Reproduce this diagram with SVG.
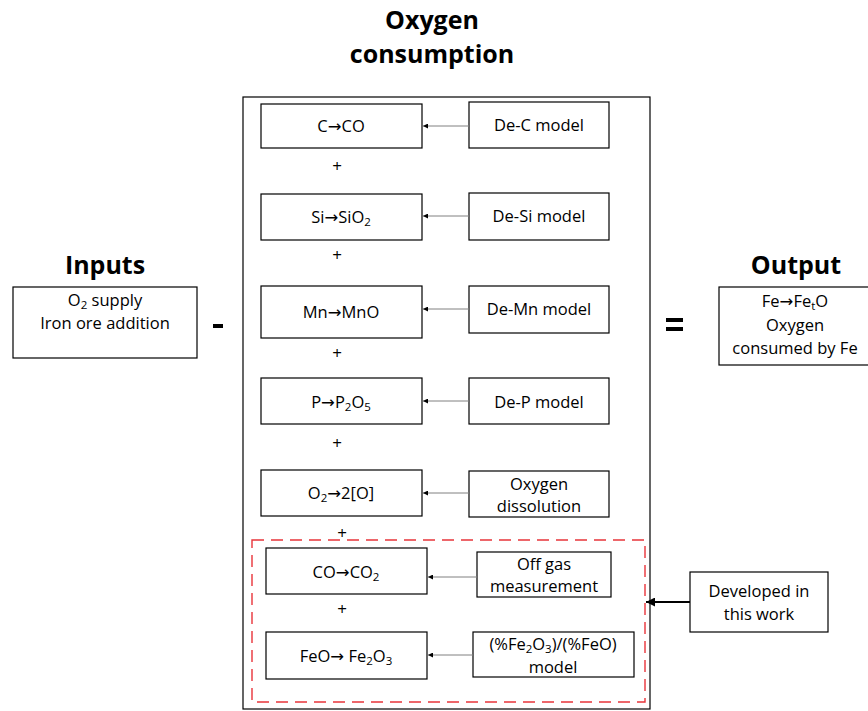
<svg xmlns="http://www.w3.org/2000/svg" width="868" height="711" viewBox="0 0 868 711">
<style>
text{font-family:"Open Sans","Liberation Sans",sans-serif;fill:#000;text-anchor:middle}
.t{font-size:16.5px}
.h{font-size:25px;font-weight:bold}
.b{fill:#fff;stroke:#000;stroke-width:1.2}
.c{stroke:#808080;stroke-width:1;fill:none}
.p{font-size:17px}
.r{font-family:"DejaVu Sans",sans-serif}
.s{font-size:11.5px}
</style>
<defs>
<marker id="a" viewBox="0 0 6 6" refX="6" refY="3" markerWidth="5" markerHeight="5" orient="auto" markerUnits="userSpaceOnUse"><path d="M0,0 L6,3 L0,6 Z" fill="#000"/></marker>
<marker id="a2" viewBox="0 0 6 6" refX="6" refY="3" markerWidth="9" markerHeight="9" orient="auto" markerUnits="userSpaceOnUse"><path d="M0,0 L6,3 L0,6 Z" fill="#000"/></marker>
</defs>
<rect width="868" height="711" fill="#fff"/>
<g id="title"><text class="h" x="432" y="29">Oxygen</text><text class="h" x="432" y="63">consumption</text></g>
<g id="main"><rect class="b" x="243" y="97" width="407" height="612"/></g>
<g id="dashed"><rect x="252" y="540" width="393" height="162" fill="none" stroke="#e8343a" stroke-width="1.4" stroke-dasharray="12,7"/></g>
<g id="inputs"><text class="h" x="105" y="274">Inputs</text><rect class="b" x="13" y="287" width="184" height="71"/><text class="t" x="105" y="306">O<tspan class="s" dy="3">2</tspan><tspan dy="-3"> supply</tspan></text><text class="t" x="105" y="329">Iron ore addition</text></g>
<g id="minus"><rect x="213" y="324" width="10" height="4" fill="#000"/></g>
<g id="equals"><rect x="666" y="318" width="17" height="4" fill="#000"/><rect x="666" y="327" width="17" height="4" fill="#000"/></g>
<g id="output"><text class="h" x="796" y="274">Output</text><rect class="b" x="719" y="287" width="150" height="78"/><text class="t" x="795" y="307">Fe<tspan class="r">→</tspan>Fe<tspan class="s" dy="3">t</tspan><tspan dy="-3">O</tspan></text><text class="t" x="795" y="331">Oxygen</text><text class="t" x="795" y="354">consumed by Fe</text></g>
<g id="n1"><rect class="b" x="261" y="104" width="161" height="44"/><text class="t" x="341" y="132">C<tspan class="r">→</tspan>CO</text></g>
<g id="m1"><rect class="b" x="469" y="102" width="140" height="46"/><text class="t" x="539" y="131">De-C model</text></g>
<g id="n2"><rect class="b" x="261" y="194" width="161" height="46"/><text class="t" x="341" y="223">Si<tspan class="r">→</tspan>SiO<tspan class="s" dy="3">2</tspan></text></g>
<g id="m2"><rect class="b" x="469" y="193" width="140" height="47"/><text class="t" x="539" y="222">De-Si model</text></g>
<g id="n3"><rect class="b" x="261" y="286" width="161" height="52"/><text class="t" x="341" y="318">Mn<tspan class="r">→</tspan>MnO</text></g>
<g id="m3"><rect class="b" x="469" y="286" width="140" height="47"/><text class="t" x="539" y="315">De-Mn model</text></g>
<g id="n4"><rect class="b" x="261" y="378" width="161" height="46"/><text class="t" x="341" y="408">P<tspan class="r">→</tspan>P<tspan class="s" dy="3">2</tspan><tspan dy="-3">O</tspan><tspan class="s" dy="3">5</tspan></text></g>
<g id="m4"><rect class="b" x="469" y="378" width="140" height="46"/><text class="t" x="539" y="408">De-P model</text></g>
<g id="n5"><rect class="b" x="261" y="470" width="161" height="46"/><text class="t" x="341" y="499">O<tspan class="s" dy="3">2</tspan><tspan class="r" dy="-3">→</tspan>2[O]</text></g>
<g id="m5"><rect class="b" x="469" y="471" width="140" height="46"/><text class="t" x="539" y="490">Oxygen</text><text class="t" x="539" y="512">dissolution</text></g>
<g id="n6"><rect class="b" x="266" y="548" width="161" height="46"/><text class="t" x="346" y="578">CO<tspan class="r">→</tspan>CO<tspan class="s" dy="3">2</tspan></text></g>
<g id="m6"><rect class="b" x="477" y="552" width="134" height="45"/><text class="t" x="544" y="570">Off gas</text><text class="t" x="544" y="592">measurement</text></g>
<g id="n7"><rect class="b" x="266" y="632" width="161" height="47"/><text class="t" x="346" y="662">FeO<tspan class="r">→</tspan> Fe<tspan class="s" dy="3">2</tspan><tspan dy="-3">O</tspan><tspan class="s" dy="3">3</tspan></text></g>
<g id="m7"><rect class="b" x="473" y="632" width="161" height="45"/><text class="t" x="553" y="650">(%Fe<tspan class="s" dy="3">2</tspan><tspan dy="-3">O</tspan><tspan class="s" dy="3">3</tspan><tspan dy="-3">)/(%FeO)</tspan></text><text class="t" x="553" y="673">model</text></g>
<g id="dev"><rect class="b" x="690" y="572" width="138" height="60"/><text class="t" x="759" y="597">Developed in</text><text class="t" x="759" y="620">this work</text></g>
<g id="plus"><text class="p" x="337" y="172">+</text><text class="p" x="337" y="261">+</text><text class="p" x="337" y="359">+</text><text class="p" x="337" y="449">+</text><text class="p" x="342" y="539">+</text><text class="p" x="342" y="615">+</text></g>
<g id="connectors">
<line class="c" x1="469" y1="126" x2="423" y2="126" marker-end="url(#a)"/>
<line class="c" x1="469" y1="216" x2="423" y2="216" marker-end="url(#a)"/>
<line class="c" x1="469" y1="309" x2="423" y2="309" marker-end="url(#a)"/>
<line class="c" x1="469" y1="401" x2="423" y2="401" marker-end="url(#a)"/>
<line class="c" x1="469" y1="493" x2="423" y2="493" marker-end="url(#a)"/>
<line class="c" x1="477" y1="577" x2="428" y2="577" marker-end="url(#a)"/>
<line class="c" x1="473" y1="655" x2="428" y2="655" marker-end="url(#a)"/>
<line x1="690" y1="602" x2="646" y2="602" stroke="#000" stroke-width="2.2" marker-end="url(#a2)"/>
</g>
</svg>
